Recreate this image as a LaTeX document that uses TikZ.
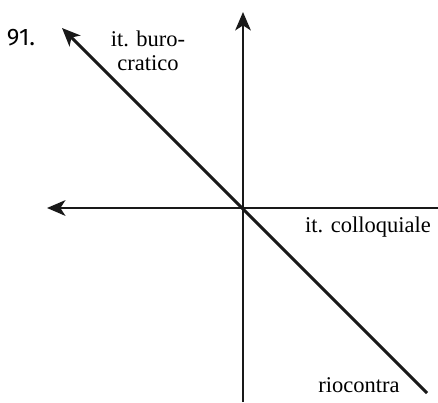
\documentclass[tikz,border=0pt]{standalone}
\usepackage{fontspec}
\setmainfont{Liberation Serif}
\newfontfamily\numfont{Fira Sans}
\usetikzlibrary{arrows.meta, positioning, calc}

\begin{document}
\begin{tikzpicture}[x=0.025cm, y=-0.025cm,
  axis/.style={line width=2.1pt, black!90},
  arrow/.style={axis, -{Stealth[length=13pt, width=11pt, inset=3.5pt]}},
  lbl/.style={font=\fontsize{16}{17}\selectfont, align=center, inner sep=0pt}
]
\useasboundingbox (0,0) rectangle (438,402);
%% AXES
\coordinate (o)    at (243,208);
\coordinate (up)   at (243,12);
\coordinate (down) at (243,402);
\coordinate (lft)  at (47,208);
\coordinate (rgt)  at (438,208);
\coordinate (nw)   at (62,28);
\coordinate (se)   at (427,393);
\draw[arrow](down)--(up);
\draw[arrow](rgt)--(lft);
\draw[arrow](se)--(nw);
%% LABELS
\node[lbl,font=\numfont\fontsize{17}{17}\selectfont] (num) at (21,38) {91.};
\node[lbl] (buro) at (148,51) {it. buro-\\cratico};
\node[lbl] (coll) at (368,227) {it. colloquiale};
\node[lbl] (rio)  at (359,385) {riocontra};
\end{tikzpicture}
\end{document}
